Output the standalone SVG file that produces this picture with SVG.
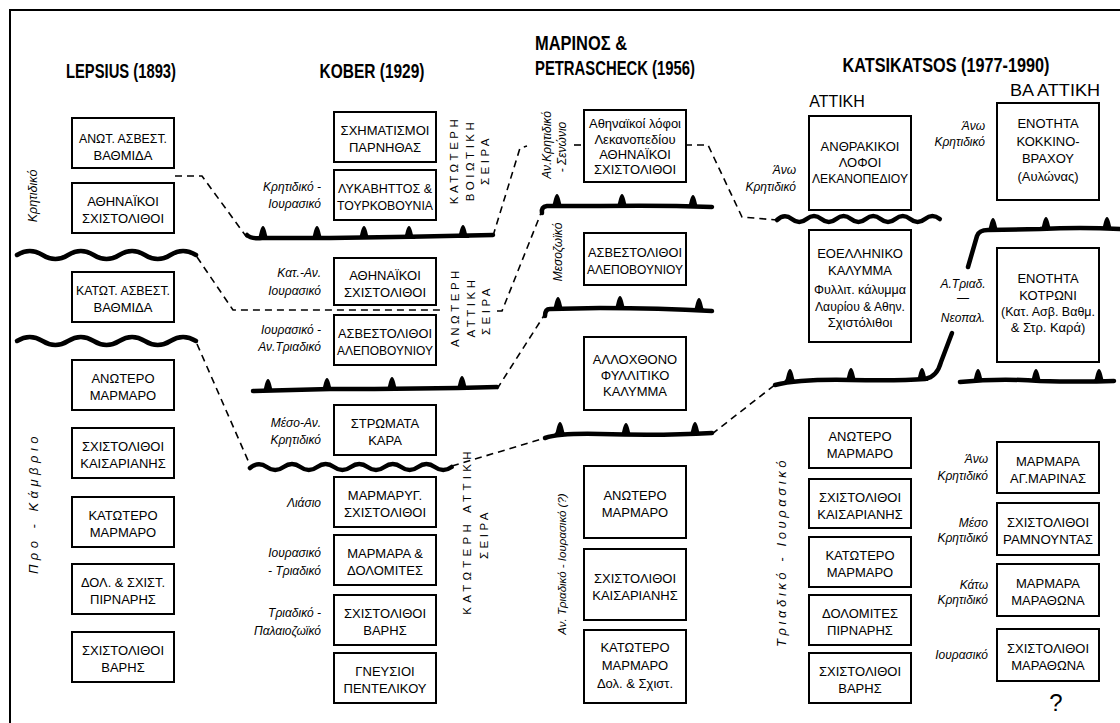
<svg xmlns="http://www.w3.org/2000/svg" width="1120" height="723" viewBox="0 0 1120 723">
<style>
.bx{fill:#fff;stroke:#000;stroke-width:2}
.t{font-family:"Liberation Sans","DejaVu Sans",sans-serif;font-size:13px;text-anchor:middle;fill:#000}
.h{font-family:"Liberation Sans","DejaVu Sans",sans-serif;font-weight:bold;font-size:21px;fill:#000}
.r{font-family:"Liberation Sans","DejaVu Sans",sans-serif;font-size:16px;fill:#000;text-anchor:middle}
.i{font-family:"Liberation Sans","DejaVu Sans",sans-serif;font-style:italic;font-size:12px;text-anchor:end;fill:#000}
.im{font-family:"Liberation Sans","DejaVu Sans",sans-serif;font-style:italic;font-size:12px;text-anchor:middle;fill:#000}
.v{font-family:"Liberation Sans","DejaVu Sans",sans-serif;font-size:11.5px;letter-spacing:3.5px;text-anchor:middle;fill:#000}
.d{fill:none;stroke:#000;stroke-width:1.6;stroke-dasharray:7 5}
.th{fill:none;stroke:#000;stroke-width:4.5;stroke-linecap:round;stroke-linejoin:round}
</style>
<defs>
<path id="tooth" d="M-6.5,2 Q-3.5,-1 -3,-6 Q-1.5,-11 0,-11 Q1.5,-11 3,-6 Q3.5,-1 6.5,2 Z" fill="#000"/>
</defs>
<rect x="0" y="0" width="1120" height="723" fill="#fff"/>
<rect x="10" y="10" width="1130" height="730" fill="none" stroke="#000" stroke-width="2"/>

<g id="titles">
<text class="h" x="121" y="78" text-anchor="middle" textLength="110" lengthAdjust="spacingAndGlyphs">LEPSIUS (1893)</text>
<text class="h" x="372" y="78" text-anchor="middle" textLength="105" lengthAdjust="spacingAndGlyphs">KOBER (1929)</text>
<text class="h" x="535" y="50" textLength="92" lengthAdjust="spacingAndGlyphs">ΜΑΡΙΝΟΣ &amp;</text>
<text class="h" x="535" y="75" textLength="160" lengthAdjust="spacingAndGlyphs">PETRASCHECK (1956)</text>
<text class="h" x="946" y="72" text-anchor="middle" textLength="207" lengthAdjust="spacingAndGlyphs">KATSIKATSOS (1977-1990)</text>
<text class="r" x="837" y="107">ΑΤΤΙΚΗ</text>
<text class="r" x="1055" y="96" textLength="90" lengthAdjust="spacingAndGlyphs">ΒΑ ΑΤΤΙΚΗ</text>
</g>

<g id="period-labels">
<text class="im" style="font-size:12.5px" transform="translate(37,196) rotate(-90)">Κρητιδικό</text>
<text class="im" style="font-size:13px;letter-spacing:4.5px" transform="translate(38,503) rotate(-90)">Προ - Κάμβριο</text>
<text class="i" x="321" y="191">Κρητιδικό -</text>
<text class="i" x="321" y="208">Ιουρασικό</text>
<text class="i" x="321" y="277">Κατ.-Αν.</text>
<text class="i" x="321" y="295">Ιουρασικό</text>
<text class="i" x="321" y="334">Ιουρασικό -</text>
<text class="i" x="321" y="351">Αν.Τριαδικό</text>
<text class="i" x="321" y="427">Μέσο-Αν.</text>
<text class="i" x="321" y="444">Κρητιδικό</text>
<text class="i" x="321" y="507">Λιάσιο</text>
<text class="i" x="321" y="557">Ιουρασικό</text>
<text class="i" x="321" y="575">- Τριαδικό</text>
<text class="i" x="321" y="617">Τριαδικό -</text>
<text class="i" x="321" y="635">Παλαιοζωϊκό</text>
<text class="v" transform="translate(458,160) rotate(-90)">ΚΑΤΩΤΕΡΗ</text>
<text class="v" transform="translate(474,160) rotate(-90)">ΒΟΙΩΤΙΚΗ</text>
<text class="v" transform="translate(489,160) rotate(-90)">ΣΕΙΡΑ</text>
<text class="v" transform="translate(459,307) rotate(-90)">ΑΝΩΤΕΡΗ</text>
<text class="v" transform="translate(475,307) rotate(-90)">ΑΤΤΙΚΗ</text>
<text class="v" transform="translate(490,310) rotate(-90)">ΣΕΙΡΑ</text>
<text class="v" style="letter-spacing:4.3px" transform="translate(471,531) rotate(-90)">ΚΑΤΩΤΕΡΗ ΑΤΤΙΚΗ</text>
<text class="v" transform="translate(488,534) rotate(-90)">ΣΕΙΡΑ</text>
<text class="im" transform="translate(551,145) rotate(-90)">Αν.Κρητιδικό</text>
<text class="im" transform="translate(566,147) rotate(-90)">- Σενώνιο</text>
<text class="im" transform="translate(562,252) rotate(-90)">Μεσοζωϊκό</text>
<text class="im" style="font-size:11.5px" transform="translate(566,564) rotate(-90)">Αν. Τριαδικό - Ιουρασικό (?)</text>
<text class="i" x="796" y="174">Άνω</text>
<text class="i" x="796" y="191">Κρητιδικό</text>
<text class="i" x="985" y="130">Άνω</text>
<text class="i" x="985" y="146">Κρητιδικό</text>
<text class="im" x="963" y="288">Α.Τριαδ.</text>
<text class="im" x="963" y="302">—</text>
<text class="im" x="963" y="322">Νεοπαλ.</text>
<text class="im" style="font-size:13px;letter-spacing:3.6px" transform="translate(786,552) rotate(-90)">Τριαδικό - Ιουρασικό</text>
<text class="i" x="988" y="463">Άνω</text>
<text class="i" x="988" y="480">Κρητιδικό</text>
<text class="i" x="988" y="527">Μέσο</text>
<text class="i" x="988" y="542">Κρητιδικό</text>
<text class="i" x="988" y="589">Κάτω</text>
<text class="i" x="988" y="604">Κρητιδικό</text>
<text class="i" x="988" y="659">Ιουρασικό</text>
<text x="1056" y="711" style="font-family:'Liberation Sans',sans-serif;font-size:24px;text-anchor:middle">?</text>
</g>

<g id="connectors">
<path class="d" d="M175,176 L202,176 L248,239"/>
<path class="d" d="M197,257 L233,310 L440,310"/>
<path class="d" d="M497,311 L502,311 L541,213"/>
<path class="d" d="M493,236 L520,148 L527,146"/>
<path class="d" d="M574,145 L583,145"/>
<path class="d" d="M197,344 L250,465"/>
<path class="d" d="M497,389 L545,314"/>
<path class="d" d="M452,466 L545,438"/>
<path class="d" d="M685,145 L708,145 L742,217 L777,220"/>
<path class="d" d="M712,434 L776,384"/>
</g>

<g id="boundaries">
<path class="th" d="M17,255 Q29.8,247 42.6,255 T68.1,255 T93.7,255 T119.3,255 T144.9,255 T170.4,255 T196,255"/>
<path class="th" d="M17,341 Q29.8,333 42.6,341 T68.1,341 T93.7,341 T119.3,341 T144.9,341 T170.4,341 T196,341"/>
<path class="th" d="M250,468 Q258.4,461 266.8,467 T283.6,467 T300.4,467 T317.2,467 T334,467 T350.8,467 T367.6,467 T384.4,467 T401.2,467 T418,467 T434.8,467 T451.6,467"/>
<path class="th" d="M777,220 Q784.4,213 791.8,219 T806.6,219 T821.4,219 T836.2,219 T851,219 T865.8,219 T880.6,219 T895.4,219 T910.2,219 T925,219 T939.8,219"/>
<path class="th" d="M247,235 Q251,239 262,238 L330,238 Q410,237 493,235"/>
<use href="#tooth" x="263" y="237"/><use href="#tooth" x="317" y="237"/><use href="#tooth" x="364" y="237"/><use href="#tooth" x="409" y="237"/><use href="#tooth" x="463" y="236"/>
<path class="th" d="M253,391 L330,389 Q420,389 497,387"/>
<use href="#tooth" x="268" y="390"/><use href="#tooth" x="327" y="389"/><use href="#tooth" x="392" y="388"/><use href="#tooth" x="462" y="387"/>
<path class="th" d="M542,213 Q541,207 547,206 L600,206 Q660,205 712,207"/>
<use href="#tooth" x="557" y="205"/><use href="#tooth" x="622" y="205"/><use href="#tooth" x="693" y="206"/>
<path class="th" d="M545,316 Q545,309 550,309 L600,308 Q660,308 712,311"/>
<use href="#tooth" x="558" y="308"/><use href="#tooth" x="620" y="307"/><use href="#tooth" x="699" y="309"/>
<path class="th" d="M545,438 Q560,433 600,434 Q660,436 712,433"/>
<use href="#tooth" x="560" y="433"/><use href="#tooth" x="626" y="434"/><use href="#tooth" x="695" y="433"/>
<path class="th" d="M775,385 Q800,379 850,380 Q900,381 925,379 Q937,377 941,362 L952,333"/>
<use href="#tooth" x="790" y="380"/><use href="#tooth" x="851" y="379"/><use href="#tooth" x="922" y="379"/>
<path class="th" d="M968,267 L977,236 Q979,230 988,230 L1040,229 Q1080,227 1120,229"/>
<use href="#tooth" x="993" y="229"/><use href="#tooth" x="1046" y="228"/><use href="#tooth" x="1107" y="228"/>
<path class="th" d="M960,382 Q1000,378 1040,381 Q1080,382 1114,381"/>
<use href="#tooth" x="978" y="380"/><use href="#tooth" x="1036" y="380"/><use href="#tooth" x="1099" y="380"/>
</g>

<g id="lepsius-1"><rect class="bx" x="72" y="118" width="102" height="50"/><text class="t" x="123" y="143" textLength="88" lengthAdjust="spacingAndGlyphs">ΑΝΩΤ. ΑΣΒΕΣΤ.</text><text class="t" x="123" y="160">ΒΑΘΜΙΔΑ</text></g>
<g id="lepsius-2"><rect class="bx" x="72" y="183" width="102" height="50"/><text class="t" x="123" y="206">ΑΘΗΝΑΪΚΟΙ</text><text class="t" x="123" y="223">ΣΧΙΣΤΟΛΙΘΟΙ</text></g>
<g id="lepsius-3"><rect class="bx" x="72" y="272" width="102" height="50"/><text class="t" x="123" y="295" textLength="94" lengthAdjust="spacingAndGlyphs">ΚΑΤΩΤ. ΑΣΒΕΣΤ.</text><text class="t" x="123" y="312">ΒΑΘΜΙΔΑ</text></g>
<g id="lepsius-4"><rect class="bx" x="72" y="360" width="102" height="50"/><text class="t" x="123" y="383">ΑΝΩΤΕΡΟ</text><text class="t" x="123" y="400">ΜΑΡΜΑΡΟ</text></g>
<g id="lepsius-5"><rect class="bx" x="72" y="428" width="102" height="50"/><text class="t" x="123" y="451">ΣΧΙΣΤΟΛΙΘΟΙ</text><text class="t" x="123" y="468">ΚΑΙΣΑΡΙΑΝΗΣ</text></g>
<g id="lepsius-6"><rect class="bx" x="72" y="497" width="102" height="50"/><text class="t" x="123" y="520">ΚΑΤΩΤΕΡΟ</text><text class="t" x="123" y="537">ΜΑΡΜΑΡΟ</text></g>
<g id="lepsius-7"><rect class="bx" x="72" y="564" width="102" height="50"/><text class="t" x="123" y="587" textLength="84" lengthAdjust="spacingAndGlyphs">ΔΟΛ. &amp; ΣΧΙΣΤ.</text><text class="t" x="123" y="604">ΠΙΡΝΑΡΗΣ</text></g>
<g id="lepsius-8"><rect class="bx" x="72" y="632" width="102" height="50"/><text class="t" x="123" y="655">ΣΧΙΣΤΟΛΙΘΟΙ</text><text class="t" x="123" y="672">ΒΑΡΗΣ</text></g>

<g id="kober-1"><rect class="bx" x="334" y="112" width="102" height="50"/><text class="t" x="385" y="135">ΣΧΗΜΑΤΙΣΜΟΙ</text><text class="t" x="385" y="152">ΠΑΡΝΗΘΑΣ</text></g>
<g id="kober-2"><rect class="bx" x="334" y="170" width="102" height="50"/><text class="t" x="385" y="193" textLength="94" lengthAdjust="spacingAndGlyphs">ΛΥΚΑΒΗΤΤΟΣ &amp;</text><text class="t" x="385" y="210" textLength="96" lengthAdjust="spacingAndGlyphs">ΤΟΥΡΚΟΒΟΥΝΙΑ</text></g>
<g id="kober-3"><rect class="bx" x="334" y="258" width="102" height="47"/><text class="t" x="385" y="279.5">ΑΘΗΝΑΪΚΟΙ</text><text class="t" x="385" y="296.5">ΣΧΙΣΤΟΛΙΘΟΙ</text></g>
<g id="kober-4"><rect class="bx" x="334" y="315" width="102" height="50"/><text class="t" x="385" y="338" textLength="94" lengthAdjust="spacingAndGlyphs">ΑΣΒΕΣΤΟΛΙΘΟΙ</text><text class="t" x="385" y="355" textLength="96" lengthAdjust="spacingAndGlyphs">ΑΛΕΠΟΒΟΥΝΙΟΥ</text></g>
<g id="kober-5"><rect class="bx" x="334" y="405" width="102" height="50"/><text class="t" x="385" y="428">ΣΤΡΩΜΑΤΑ</text><text class="t" x="385" y="445">ΚΑΡΑ</text></g>
<g id="kober-6"><rect class="bx" x="334" y="477" width="102" height="50"/><text class="t" x="385" y="500">ΜΑΡΜΑΡΥΓ.</text><text class="t" x="385" y="517">ΣΧΙΣΤΟΛΙΘΟΙ</text></g>
<g id="kober-7"><rect class="bx" x="334" y="535" width="102" height="50"/><text class="t" x="385" y="558">ΜΑΡΜΑΡΑ &amp;</text><text class="t" x="385" y="575">ΔΟΛΟΜΙΤΕΣ</text></g>
<g id="kober-8"><rect class="bx" x="334" y="595" width="102" height="50"/><text class="t" x="385" y="618">ΣΧΙΣΤΟΛΙΘΟΙ</text><text class="t" x="385" y="635">ΒΑΡΗΣ</text></g>
<g id="kober-9"><rect class="bx" x="334" y="653" width="102" height="50"/><text class="t" x="385" y="676">ΓΝΕΥΣΙΟΙ</text><text class="t" x="385" y="693">ΠΕΝΤΕΛΙΚΟΥ</text></g>

<g id="marinos-1"><rect class="bx" x="584" y="110" width="102" height="72"/><text class="t" x="635" y="128" textLength="92" lengthAdjust="spacingAndGlyphs">Αθηναϊκοί λόφοι</text><text class="t" x="635" y="144">Λεκανοπεδίου</text><text class="t" x="635" y="159">ΑΘΗΝΑΪΚΟΙ</text><text class="t" x="635" y="174">ΣΧΙΣΤΟΛΙΘΟΙ</text></g>
<g id="marinos-2"><rect class="bx" x="584" y="233" width="102" height="52"/><text class="t" x="635" y="257" textLength="94" lengthAdjust="spacingAndGlyphs">ΑΣΒΕΣΤΟΛΙΘΟΙ</text><text class="t" x="635" y="274" textLength="96" lengthAdjust="spacingAndGlyphs">ΑΛΕΠΟΒΟΥΝΙΟΥ</text></g>
<g id="marinos-3"><rect class="bx" x="584" y="337" width="102" height="73"/><text class="t" x="635" y="364">ΑΛΛΟΧΘΟΝΟ</text><text class="t" x="635" y="380">ΦΥΛΛΙΤΙΚΟ</text><text class="t" x="635" y="396">ΚΑΛΥΜΜΑ</text></g>
<g id="marinos-4"><rect class="bx" x="584" y="466" width="102" height="72"/><text class="t" x="635" y="500">ΑΝΩΤΕΡΟ</text><text class="t" x="635" y="517">ΜΑΡΜΑΡΟ</text></g>
<g id="marinos-5"><rect class="bx" x="584" y="549" width="102" height="71"/><text class="t" x="635" y="582.5">ΣΧΙΣΤΟΛΙΘΟΙ</text><text class="t" x="635" y="599.5">ΚΑΙΣΑΡΙΑΝΗΣ</text></g>
<g id="marinos-6"><rect class="bx" x="584" y="630" width="102" height="73"/><text class="t" x="635" y="652">ΚΑΤΩΤΕΡΟ</text><text class="t" x="635" y="670">ΜΑΡΜΑΡΟ</text><text class="t" x="635" y="688">Δολ. &amp; Σχιστ.</text></g>

<g id="attiki-1"><rect class="bx" x="809" y="116" width="102" height="94"/><text class="t" x="860" y="151">ΑΝΘΡΑΚΙΚΟΙ</text><text class="t" x="860" y="167">ΛΟΦΟΙ</text><text class="t" x="860" y="183" textLength="96" lengthAdjust="spacingAndGlyphs">ΛΕΚΑΝΟΠΕΔΙΟΥ</text></g>
<g id="attiki-2"><rect class="bx" x="809" y="230" width="102" height="112"/><text class="t" x="860" y="258">ΕΟΕΛΛΗΝΙΚΟ</text><text class="t" x="860" y="275">ΚΑΛΥΜΜΑ</text><text class="t" x="860" y="294" textLength="92" lengthAdjust="spacingAndGlyphs">Φυλλιτ. κάλυμμα</text><text class="t" x="860" y="311" textLength="90" lengthAdjust="spacingAndGlyphs">Λαυρίου &amp; Αθην.</text><text class="t" x="860" y="327">Σχιστόλιθοι</text></g>
<g id="attiki-3"><rect class="bx" x="809" y="418" width="102" height="50"/><text class="t" x="860" y="441">ΑΝΩΤΕΡΟ</text><text class="t" x="860" y="458">ΜΑΡΜΑΡΟ</text></g>
<g id="attiki-4"><rect class="bx" x="809" y="479" width="102" height="49"/><text class="t" x="860" y="501.5">ΣΧΙΣΤΟΛΙΘΟΙ</text><text class="t" x="860" y="518.5">ΚΑΙΣΑΡΙΑΝΗΣ</text></g>
<g id="attiki-5"><rect class="bx" x="809" y="537" width="102" height="50"/><text class="t" x="860" y="560">ΚΑΤΩΤΕΡΟ</text><text class="t" x="860" y="577">ΜΑΡΜΑΡΟ</text></g>
<g id="attiki-6"><rect class="bx" x="809" y="595" width="102" height="50"/><text class="t" x="860" y="618">ΔΟΛΟΜΙΤΕΣ</text><text class="t" x="860" y="635">ΠΙΡΝΑΡΗΣ</text></g>
<g id="attiki-7"><rect class="bx" x="809" y="653" width="102" height="50"/><text class="t" x="860" y="676">ΣΧΙΣΤΟΛΙΘΟΙ</text><text class="t" x="860" y="693">ΒΑΡΗΣ</text></g>

<g id="ba-1"><rect class="bx" x="997" y="103" width="102" height="97"/><text class="t" x="1048" y="128">ΕΝΟΤΗΤΑ</text><text class="t" x="1048" y="146">ΚΟΚΚΙΝΟ-</text><text class="t" x="1048" y="163">ΒΡΑΧΟΥ</text><text class="t" x="1048" y="181">(Αυλώνας)</text></g>
<g id="ba-2"><rect class="bx" x="997" y="248" width="102" height="114"/><text class="t" x="1048" y="283">ΕΝΟΤΗΤΑ</text><text class="t" x="1048" y="299.5">ΚΟΤΡΩΝΙ</text><text class="t" x="1048" y="316" textLength="94" lengthAdjust="spacingAndGlyphs">(Κατ. Ασβ. Βαθμ.</text><text class="t" x="1048" y="332">&amp; Στρ. Καρά)</text></g>
<g id="ba-3"><rect class="bx" x="997" y="442" width="102" height="51"/><text class="t" x="1048" y="465.5">ΜΑΡΜΑΡΑ</text><text class="t" x="1048" y="482.5">ΑΓ.ΜΑΡΙΝΑΣ</text></g>
<g id="ba-4"><rect class="bx" x="997" y="503" width="102" height="52"/><text class="t" x="1048" y="527">ΣΧΙΣΤΟΛΙΘΟΙ</text><text class="t" x="1048" y="544" textLength="90" lengthAdjust="spacingAndGlyphs">ΡΑΜΝΟΥΝΤΑΣ</text></g>
<g id="ba-5"><rect class="bx" x="997" y="564" width="102" height="52"/><text class="t" x="1048" y="588">ΜΑΡΜΑΡΑ</text><text class="t" x="1048" y="605">ΜΑΡΑΘΩΝΑ</text></g>
<g id="ba-6"><rect class="bx" x="997" y="629" width="102" height="52"/><text class="t" x="1048" y="653">ΣΧΙΣΤΟΛΙΘΟΙ</text><text class="t" x="1048" y="670">ΜΑΡΑΘΩΝΑ</text></g>
</svg>
